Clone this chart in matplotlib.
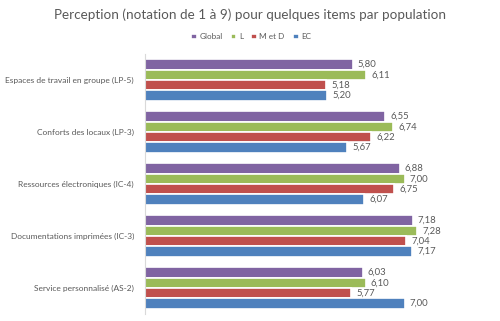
import matplotlib
matplotlib.use("Agg")
import matplotlib.pyplot as plt
import numpy as np

categories = ["Espaces de travail en groupe (LP-5)", "Conforts des locaux (LP-3)",
              "Ressources électroniques (IC-4)", "Documentations imprimées (IC-3)",
              "Service personnalisé (AS-2)"]
series = ["Global", "L", "M et D", "EC"]
global_vals = [5.80, 6.55, 6.88, 7.18, 6.03]
l_vals = [6.11, 6.74, 7.00, 7.28, 6.10]
md_vals = [5.18, 6.22, 6.75, 7.04, 5.77]
ec_vals = [5.20, 5.67, 6.07, 7.17, 7.00]
colors = ["#8064A2", "#9BBB59", "#C0504D", "#4F81BD"]

plt.rcParams['font.family'] = ['Lato', 'DejaVu Sans']
text_col = "#595959"

fig = plt.figure(figsize=(5, 3.21), dpi=100)
ax = fig.add_axes([0.29, 0.0218, 0.606, 0.81])

y = np.arange(len(categories))
h = 0.2
x0 = 1  # the scale starts at 1 (notation de 1 à 9)
for k, (name, vals) in enumerate(zip(series, [global_vals, l_vals, md_vals, ec_vals])):
    pos = y - 0.3 + k * h
    widths = [v - x0 for v in vals]
    ax.barh(pos, widths, left=x0, height=h, color=colors[k], edgecolor="white",
            linewidth=1.2, label=name)
    for p, v in zip(pos, vals):
        ax.text(v + 0.12, p, f"{v:.2f}".replace(".", ","), va="center", ha="left",
                fontsize=6.8, color=text_col)

ax.set_xlim(x0, 8)
ax.set_ylim(4.5, -0.5)
ax.set_yticks(y)
ax.set_yticklabels(categories, fontsize=6.0, color=text_col)
ax.tick_params(axis="y", length=0, pad=8)
ax.set_xticks([])
for s in ["top", "right", "bottom"]:
    ax.spines[s].set_visible(False)
ax.spines["left"].set_color("#D9D9D9")

fig.text(0.5, 0.953, "Perception (notation de 1 à 9) pour quelques items par population",
         ha="center", va="center", fontsize=9.7, color=text_col)
fig.legend(loc="center", bbox_to_anchor=(0.502, 0.885), ncol=4, frameon=False,
           fontsize=5.9, handlelength=0.7, handleheight=0.7, columnspacing=1.0,
           handletextpad=0.3, labelcolor=text_col)

fig.savefig("out.png", dpi=100)
